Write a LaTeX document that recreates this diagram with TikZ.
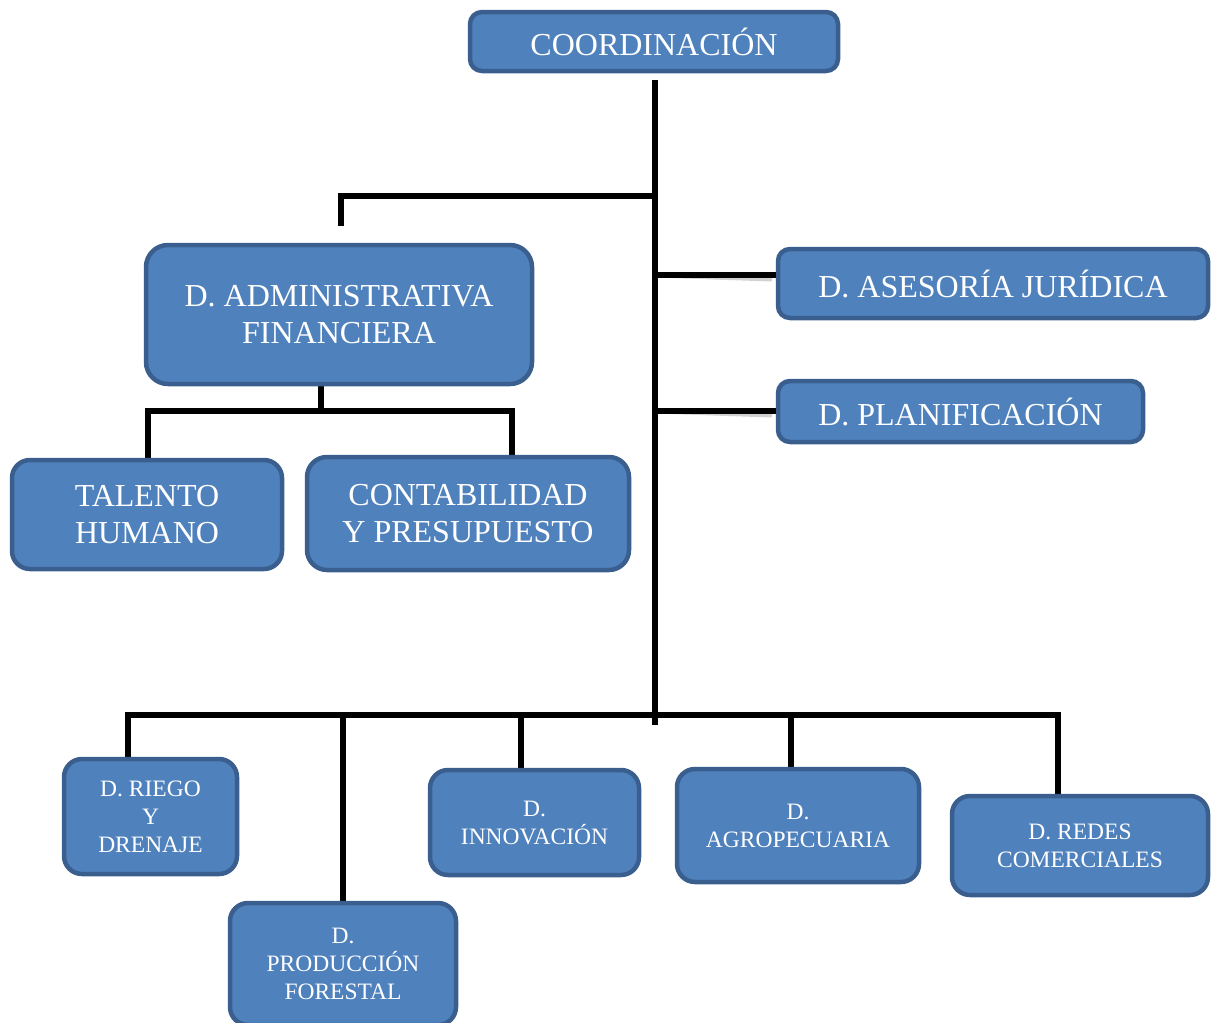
\documentclass[tikz,border=0pt]{standalone}
\usepackage{fontspec}
\setmainfont{Liberation Serif}
\definecolor{boxfill}{HTML}{4F81BD}
\definecolor{boxline}{HTML}{3A5F8E}
\begin{document}
\begin{tikzpicture}[x=1pt,y=-1pt,
  box/.style={draw=boxline, line width=4.5pt, fill=boxfill, text=white, rounded corners=18pt, align=center, inner sep=0pt},
  bigtxt/.style={font=\fontsize{32}{37}\selectfont},
  smalltxt/.style={font=\fontsize{23.5}{28}\selectfont},
  conn/.style={line width=5.5pt, black},
  shadowline/.style={line width=5pt, black!18}]
\useasboundingbox (0,0) rectangle (1211,1023);
\clip (0,0) rectangle (1211,1023);
% coordinates of junctions
\coordinate (j0) at (655,80);
\coordinate (jbus) at (655,725);
\coordinate (ja) at (655,196);
\coordinate (aTop) at (341,226);
\coordinate (jasj) at (655,275);
\coordinate (jplan) at (655,411);
\coordinate (aBot) at (321,375);
\coordinate (aBus) at (321,411);
\coordinate (talTop) at (148,458);
\coordinate (cTop) at (512,458);
\coordinate (rTop) at (128,757);
\coordinate (bR) at (1058,715);
\coordinate (redTop) at (1058,794);
\coordinate (pBus) at (343,715);
\coordinate (pTop) at (343,903);
\coordinate (iBus) at (521,715);
\coordinate (iTop) at (521,768);
\coordinate (gBus) at (791,715);
\coordinate (gTop) at (791,767);
% shadows
\begin{scope}[shift={(2,4)}]
\draw[shadowline] (j0) -- (jbus);
\draw[shadowline] (ja) -| (aTop);
\draw[shadowline] (jasj) -- (770,275);
\draw[shadowline] (jplan) -- (770,411);
\draw[shadowline] (aBot) -- (aBus);
\draw[shadowline] (talTop) |- (aBus) -| (cTop);
\draw[shadowline] (rTop) |- (bR) -- (redTop);
\draw[shadowline] (pBus) -- (pTop);
\draw[shadowline] (iBus) -- (iTop);
\draw[shadowline] (gBus) -- (gTop);
\end{scope}
% connectors
\draw[conn] (j0) -- (jbus);
\draw[conn] (ja) -| (aTop);
\draw[conn] (aBot) -- (aBus);
\draw[conn] (talTop) |- (aBus) -| (cTop);
\draw[conn] (rTop) |- (bR) -- (redTop);
\draw[conn] (pBus) -- (pTop);
\draw[conn] (iBus) -- (iTop);
\draw[conn] (gBus) -- (gTop);
% boxes
\node[box, bigtxt, minimum width=368pt, minimum height=59pt, rounded corners=12pt] (coord) at (654,41.5) {COORDINACIÓN};
\node[box, bigtxt, minimum width=386pt, minimum height=139pt, rounded corners=22pt] (admin) at (339,314.5) {D. ADMINISTRATIVA\\FINANCIERA};
\node[box, bigtxt, minimum width=430pt, minimum height=69pt, rounded corners=12pt] (asj) at (993,283.5) {D. ASESORÍA JURÍDICA};
\node[box, bigtxt, minimum width=365pt, minimum height=61pt, rounded corners=12pt] (plan) at (960.5,411.5) {D. PLANIFICACIÓN};
\node[box, bigtxt, minimum width=270pt, minimum height=109pt] (tal) at (147,514.5) {TALENTO\\HUMANO};
\node[box, bigtxt, minimum width=322pt, minimum height=113pt, rounded corners=20pt] (cont) at (468,513.5) {CONTABILIDAD\\Y PRESUPUESTO};
\node[box, smalltxt, minimum width=173pt, minimum height=115pt] (riego) at (150.5,816.5) {D. RIEGO\\Y\\DRENAJE};
\node[box, smalltxt, minimum width=226pt, minimum height=122pt] (prod) at (343,964) {D.\\PRODUCCIÓN\\FORESTAL};
\node[box, smalltxt, minimum width=209pt, minimum height=105pt] (innov) at (534.5,822.5) {D.\\INNOVACIÓN};
\node[box, smalltxt, minimum width=242pt, minimum height=113pt] (agro) at (798,825.5) {D.\\AGROPECUARIA};
\node[box, smalltxt, minimum width=256pt, minimum height=99pt] (redes) at (1080,845.5) {D. REDES\\COMERCIALES};
% connectors touching boxes at their edges
\draw[conn] (jasj) -- (jasj -| asj.west);
\draw[conn] (jplan) -- (jplan -| plan.west);
\end{tikzpicture}
\end{document}
